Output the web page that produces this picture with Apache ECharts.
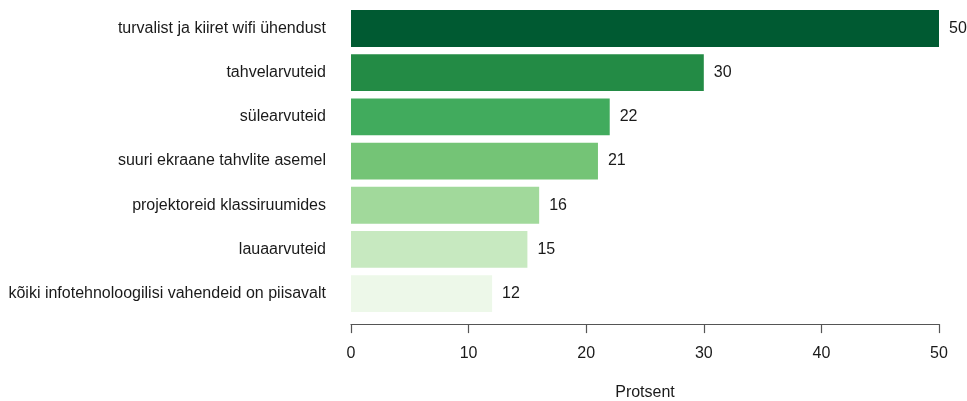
<!DOCTYPE html>
<html>
<head>
<meta charset="utf-8">
<script src="https://cdn.jsdelivr.net/npm/echarts@6/dist/echarts.min.js"></script>
<style>
  html, body { margin: 0; padding: 0; background: #fff; }
  #chart { width: 967px; height: 401px; }
</style>
</head>
<body>
<div id="chart"></div>
<script>
// Categories from top to bottom
const categories = [
  'turvalist ja kiiret wifi ühendust',
  'tahvelarvuteid',
  'sülearvuteid',
  'suuri ekraane tahvlite asemel',
  'projektoreid klassiruumides',
  'lauaarvuteid',
  'kõiki infotehnoloogilisi vahendeid on piisavalt'
];
const values = [50, 30, 22, 21, 16, 15, 12];
const barColors = ['#005a32', '#238b45', '#41ab5d', '#74c476', '#a1d99b', '#c7e9c0', '#edf8e9'];
const xTicks = [0, 10, 20, 30, 40, 50];

const chart = echarts.init(document.getElementById('chart'), null, { renderer: 'canvas' });
const font = 'Liberation Sans, Arial, Helvetica, sans-serif';
const textColor = '#1a1a1a';

chart.setOption({
  animation: false,
  grid: {
    left: 351, right: 28, top: 6.4, bottom: 85.3,
    containLabel: false,
    outerBoundsMode: 'none'
  },
  xAxis: {
    type: 'value',
    min: xTicks[0],
    max: xTicks[xTicks.length - 1],
    interval: 10,
    offset: 8.4,
    name: 'Protsent',
    nameLocation: 'middle',
    nameGap: 60,
    nameTextStyle: { fontFamily: font, fontSize: 16, color: textColor },
    axisLine: { show: true, lineStyle: { color: '#555', width: 1.2 } },
    axisTick: { show: true, length: 9, lineStyle: { color: '#555', width: 1.2 } },
    axisLabel: { margin: 21, fontFamily: font, fontSize: 16, color: textColor },
    splitLine: { show: false }
  },
  yAxis: {
    type: 'category',
    data: categories,
    inverse: true,
    axisLine: { show: false },
    axisTick: { show: false },
    axisLabel: { margin: 25, fontFamily: font, fontSize: 16, color: textColor }
  },
  series: [{
    type: 'bar',
    data: values.map((v, i) => ({ value: v, itemStyle: { color: barColors[i] } })),
    barCategoryGap: '16.7%',
    label: {
      show: true,
      position: 'right',
      distance: 10,
      fontFamily: font,
      fontSize: 16,
      color: textColor
    }
  }]
});
</script>
</body>
</html>
